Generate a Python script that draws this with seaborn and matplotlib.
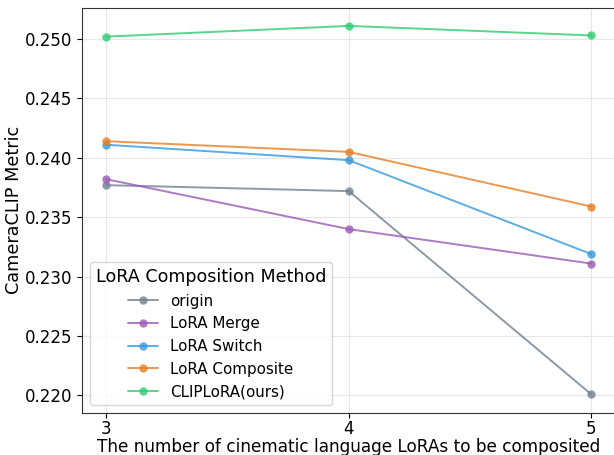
import matplotlib
matplotlib.use("Agg")
import matplotlib.pyplot as plt
import seaborn as sns
import pandas as pd

num_loras = [3, 4, 5]
methods = ["origin", "LoRA Merge", "LoRA Switch", "LoRA Composite", "CLIPLoRA(ours)"]
origin = [0.2377, 0.2372, 0.2201]
lora_merge = [0.2382, 0.2340, 0.2311]
lora_switch = [0.2411, 0.2398, 0.2319]
lora_composite = [0.2414, 0.2405, 0.2359]
cliplora = [0.2502, 0.2511, 0.2503]
colors = ["#708090", "#9b59b6", "#3498db", "#e67e22", "#2ecc71"]

series = [origin, lora_merge, lora_switch, lora_composite, cliplora]
rows = []
for m, vals in zip(methods, series):
    for x, v in zip(num_loras, vals):
        rows.append({"n": x, "CameraCLIP Metric": v, "LoRA Composition Method": m})
df = pd.DataFrame(rows)

sns.set_style("ticks")
plt.rcParams['font.family'] = ['DejaVu Sans']
plt.rcParams['text.color'] = 'black'
plt.rcParams['axes.labelcolor'] = 'black'
plt.rcParams['xtick.color'] = 'black'
plt.rcParams['ytick.color'] = 'black'

fig = plt.figure(figsize=(6.14, 4.55), dpi=100)
ax = fig.add_axes([82/614, (455-412.7)/455, (615.5-82)/614, (412.7-7.5)/455])

sns.lineplot(data=df, x="n", y="CameraCLIP Metric", hue="LoRA Composition Method",
             palette=colors, marker="o", markersize=6, markeredgewidth=0,
             linewidth=1.4, alpha=0.8, ax=ax)

ax.set_xticks(num_loras)
ax.set_yticks([0.220, 0.225, 0.230, 0.235, 0.240, 0.245, 0.250])
ax.set_yticklabels(["0.220", "0.225", "0.230", "0.235", "0.240", "0.245", "0.250"])
ax.tick_params(labelsize=12)
ax.tick_params(axis="x", pad=2)
ax.set_xlabel("The number of cinematic language LoRAs to be composited", fontsize=12.2, labelpad=0)
ax.set_ylabel("CameraCLIP Metric", fontsize=12.7, labelpad=1.5)
ax.grid(True, color="#e6e6e6", linewidth=0.8)
ax.set_axisbelow(True)
for s in ax.spines.values():
    s.set_color("#333333")

leg = ax.legend(title="LoRA Composition Method", loc="lower left", fontsize=10.9,
                title_fontsize=12.6, frameon=True)
leg.get_frame().set_edgecolor("#cccccc")

fig.savefig("out.png", dpi=100)
